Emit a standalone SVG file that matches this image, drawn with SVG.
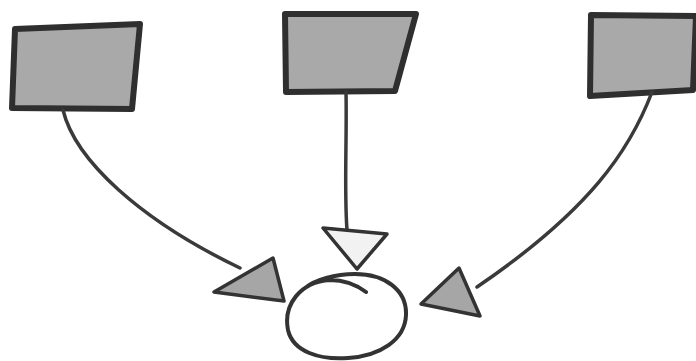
<svg xmlns="http://www.w3.org/2000/svg" width="696" height="361" viewBox="0 0 696 361">
<style>
.box{fill:#a9a9a9;stroke:#2f2f2f;stroke-width:6;stroke-linejoin:round}
.edge{fill:none;stroke:#3a3a3a;stroke-width:3.5;stroke-linecap:round}
.head{fill:#a6a6a6;stroke:#333;stroke-width:3.5;stroke-linejoin:round}
.headw{fill:#f2f2f2;stroke:#333;stroke-width:3.5;stroke-linejoin:round}
.node{fill:#fff;stroke:#333;stroke-width:4;stroke-linecap:round}
</style>
<rect width="696" height="361" fill="#fff"/>
<g id="box-left"><path class="box" d="M15,29 L140,24 L132,109 L12,108 Z"/></g>
<g id="box-middle"><path class="box" d="M285,14 L416,14 L395,91 L286,92 Z"/></g>
<g id="box-right"><path class="box" d="M591,15 L696,16 L693,90 L590,96 Z"/></g>
<g id="target"><path class="node" d="M366,292 Q350,280 330,280 C300,282 283,305 288,330 C293,352 320,360 348,358 C380,356 405,340 406,315 C407,290 385,274 355,274 C335,274 315,280 305,288"/></g>
<g id="connectors">
<path class="edge" d="M63,110 C75,160 140,220 240,268"/>
<path class="edge" d="M346,92 C347,140 344,190 347,230"/>
<path class="edge" d="M652,92 C630,150 590,210 477,287"/>
<polygon class="head" points="214,292 273,258 284,301"/>
<polygon class="headw" points="323,228 387,234 357,269"/>
<polygon class="head" points="421,304 459,268 480,316"/>
</g>
</svg>
